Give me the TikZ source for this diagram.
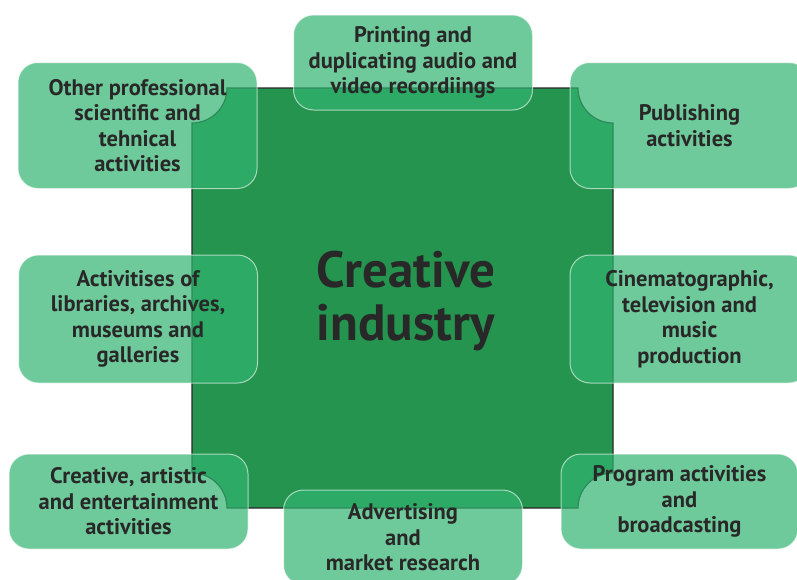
\documentclass[tikz,border=0pt]{standalone}
\usepackage{fontspec}
\setmainfont{PT Sans}
\definecolor{coregreen}{RGB}{36,148,78}
\definecolor{boxgreen}{RGB}{50,180,112}
\definecolor{inkgrey}{RGB}{40,40,40}
\tikzstyle{sector} = [rectangle, rounded corners=20pt, minimum width=239pt, minimum height=95pt, inner sep=0pt, align=center, draw=white, draw opacity=0.6, line width=1pt, fill=boxgreen, fill opacity=0.7, text opacity=1, text=inkgrey, font=\bfseries\fontsize{22.5}{25.5}\selectfont]
\tikzstyle{tallsector} = [sector, minimum height=126pt]
\tikzstyle{title} = [text=inkgrey, align=center, font=\bfseries\fontsize{51}{53}\selectfont]
\begin{document}
\begin{tikzpicture}[x=1pt, y=-1pt]
\useasboundingbox (0,0) rectangle (797,579);
\clip (0,0) rectangle (797,579);

% core square with hollowed corners
\draw [fill=coregreen, draw=inkgrey, line width=1.2pt]
  (227,88) -- (578,88) arc[start angle=180, end angle=90, radius=35]
  -- (613,473) arc[start angle=270, end angle=180, radius=35]
  -- (227,508) arc[start angle=0, end angle=-90, radius=35]
  -- (192,123) arc[start angle=90, end angle=0, radius=35] -- cycle;
\node (core) [title] at (406,301) {Creative\\industry};

\node (science) [tallsector] at (137.5,125.5) {Other professional\\scientific and\\tehnical\\activities};
\node (printing) [sector] at (413,62.5) {Printing and\\duplicating audio and\\video recordiings};
\node (publishing) [tallsector] at (689.5,125.5) {Publishing\\activities};
\node (libraries) [tallsector, minimum height=128pt] at (138,319) {Activitises of\\libraries, archives,\\museums and\\galleries};
\node (cinema) [tallsector, minimum height=128pt] at (689.5,319) {Cinematographic,\\television and\\music\\production};
\node (arts) [sector] at (128.5,501.5) {Creative, artistic\\and entertainment\\activities};
\node (advertising) [sector] at (403,537.5) {Advertising\\and\\market research};
\node (broadcasting) [sector, minimum width=237pt] at (679.5,501.5) {Program activities\\and\\broadcasting};

\end{tikzpicture}
\end{document}
